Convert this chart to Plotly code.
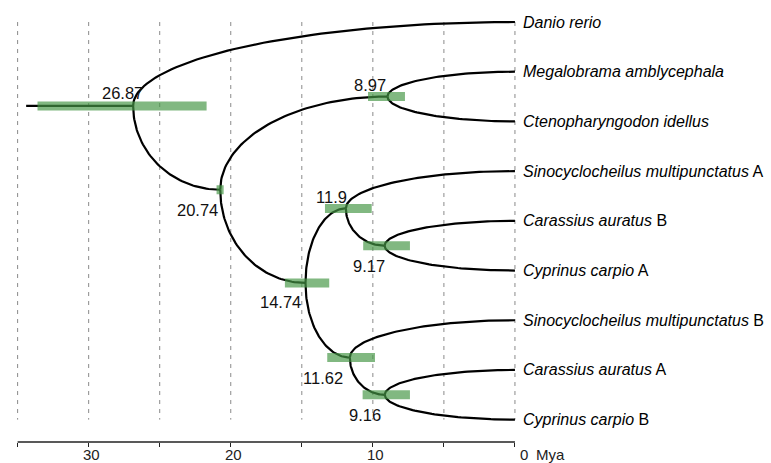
import numpy as np
import plotly.graph_objects as go

# ---------------- data ----------------
tip_names = ["Danio rerio", "Megalobrama amblycephala", "Ctenopharyngodon idellus",
             "Sinocyclocheilus multipunctatus", "Carassius auratus", "Cyprinus carpio",
             "Sinocyclocheilus multipunctatus", "Carassius auratus", "Cyprinus carpio"]
tip_suffix = ["", "", "", "A", "B", "A", "B", "A", "B"]

node_ids = ["root", "n2074", "n897", "n1474", "n119", "n917", "n1162", "n916"]
node_ages = [26.87, 20.74, 8.97, 14.74, 11.9, 9.17, 11.62, 9.16]
hpd_low = [21.7, 20.5, 7.74, 13.07, 10.08, 7.39, 9.85, 7.39]
hpd_high = [33.6, 21.0, 10.34, 16.19, 13.37, 10.68, 13.21, 10.72]
node_children = {
    "root": ["t0", "n2074"],
    "n2074": ["n897", "n1474"],
    "n897": ["t1", "t2"],
    "n1474": ["n119", "n1162"],
    "n119": ["t3", "n917"],
    "n917": ["t4", "t5"],
    "n1162": ["t6", "n916"],
    "n916": ["t7", "t8"],
}
root_stem_age = 34.4
axis_ticks = [0, 5, 10, 15, 20, 25, 30, 35]
axis_labels = {0: "0", 10: "10", 20: "20", 30: "30"}
axis_unit = "Mya"

# ---------------- layout helpers ----------------
age = {nid: a for nid, a in zip(node_ids, node_ages)}
ypos = {}
for i in range(len(tip_names)):
    age[f"t{i}"] = 0.0
    ypos[f"t{i}"] = float(i)


def get_y(n):
    if n not in ypos:
        ys = [get_y(c) for c in node_children[n]]
        ypos[n] = (ys[0] + ys[-1]) / 2
    return ypos[n]


get_y("root")

FONT = "Liberation Sans, Arial, Helvetica, sans-serif"
fig = go.Figure()

# dashed grid lines
gx, gy = [], []
for t in axis_ticks:
    gx += [t, t, None]
    gy += [0, len(tip_names) - 1, None]
fig.add_trace(go.Scatter(x=gx, y=gy, mode="lines", hoverinfo="skip",
                         line=dict(color="#8a8a8a", width=1, dash="4px,5px")))

# tree branches (quarter-ellipse curves)
bx, by = [], []
tt = np.linspace(0, np.pi / 2, 60)
for p, kids in node_children.items():
    for c in kids:
        ap, ac = age[p], age[c]
        yp, yc = ypos[p], ypos[c]
        xs = ap - (ap - ac) * (1 - np.cos(tt))
        ys = yp + (yc - yp) * np.sin(tt)
        bx += list(xs) + [None]
        by += list(ys) + [None]
# root stem
bx += [root_stem_age, age["root"], None]
by += [ypos["root"], ypos["root"], None]
fig.add_trace(go.Scatter(x=bx, y=by, mode="lines", hoverinfo="skip",
                         line=dict(color="black", width=2.2)))

# HPD bars
hx, hy = [], []
for nid, lo, hi in zip(node_ids, hpd_low, hpd_high):
    hx += [hi, lo, None]
    hy += [ypos[nid], ypos[nid], None]
fig.add_trace(go.Scatter(x=hx, y=hy, mode="lines", hoverinfo="skip",
                         line=dict(color="rgba(70,150,70,0.68)", width=9)))

# node age labels (xshift, yshift in px)
label_offsets = {
    "root": (12, 13), "n2074": (0, -20), "n897": (1, 12), "n1474": (-3, -19),
    "n119": (3, 11), "n917": (2, -20), "n1162": (-5, -20), "n916": (-2, -20),
}
annotations = []
for nid, a in zip(node_ids, node_ages):
    dx, dy = label_offsets[nid]
    annotations.append(dict(x=a, y=ypos[nid], text=f"{a:g}", showarrow=False,
                            xanchor="right", yanchor="middle", xshift=dx, yshift=dy,
                            font=dict(family=FONT, size=16.5, color="#111")))

# tip labels
for i, (nm, sf) in enumerate(zip(tip_names, tip_suffix)):
    txt = f"<i>{nm}</i>" + (f" {sf}" if sf else "")
    annotations.append(dict(x=0, y=i, text=txt, showarrow=False, xanchor="left",
                            yanchor="middle", xshift=6,
                            font=dict(family=FONT, size=16, color="black")))

# axis labels
for v, s in axis_labels.items():
    annotations.append(dict(x=v, y=0, yref="paper", text=s, showarrow=False,
                            xanchor="center", yanchor="top", xshift=(9 if v == 0 else 3), yshift=-2,
                            font=dict(family=FONT, size=15, color="#222")))
annotations.append(dict(x=0, y=0, yref="paper", text=axis_unit, showarrow=False,
                        xanchor="left", yanchor="top", xshift=19, yshift=-2,
                        font=dict(family=FONT, size=15, color="#222")))

fig.update_layout(
    width=771, height=463,
    margin=dict(l=0, r=0, t=0, b=21),
    paper_bgcolor="white", plot_bgcolor="white",
    showlegend=False,
    annotations=annotations,
    shapes=[dict(type="line", xref="x", yref="paper", x0=max(axis_ticks), x1=0,
                 y0=0, y1=0, line=dict(color="#222", width=1.5))],
    xaxis=dict(range=[36.24, -18.02], showgrid=False, zeroline=False, showline=False,
               tickvals=axis_ticks, ticks="outside", ticklen=4, tickwidth=1.2,
               tickcolor="#222", showticklabels=False, fixedrange=True),
    yaxis=dict(range=[8.45, -0.443], visible=False, fixedrange=True),
)

fig.write_html("out.html", config={"displayModeBar": False},
               post_script="document.body.style.margin='0';document.body.style.overflow='hidden';")
